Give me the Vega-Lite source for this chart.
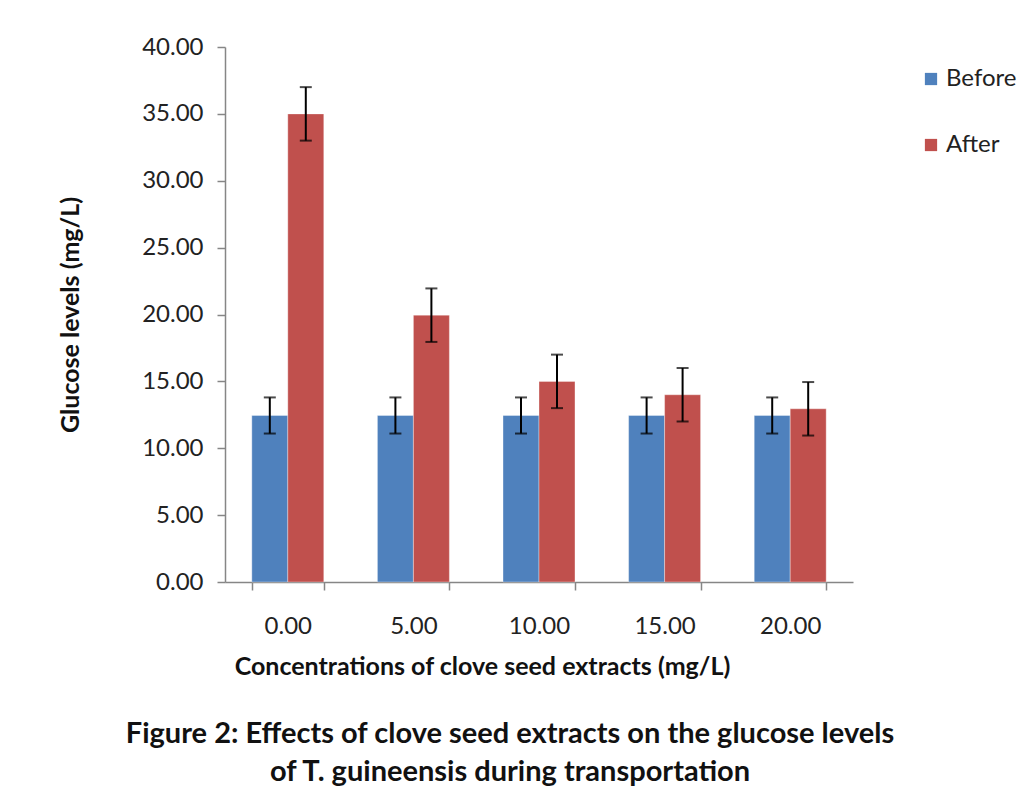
{
  "$schema": "https://vega.github.io/schema/vega-lite/v6.json",
  "width": 628,
  "height": 535,
  "autosize": {"type": "none"},
  "padding": {"left": 225, "top": 47, "right": 173, "bottom": 218},
  "background": "white",
  "config": {
    "font": "Lato",
    "view": {"stroke": null},
    "axis": {"grid": false, "domainColor": "#868686", "tickColor": "#868686", "labelColor": "#222222", "titleColor": "#111111", "domainWidth": 1.5, "tickWidth": 1.5}
  },
  "title": {
    "text": ["Figure 2: Effects of clove seed extracts on the glucose levels", "of T. guineensis during transportation"],
    "orient": "bottom",
    "anchor": "middle",
    "fontSize": 29,
    "fontWeight": "bold",
    "lineHeight": 38,
    "dx": -29,
    "offset": 41,
    "color": "#111111"
  },
  "data": {
    "values": [
      {"conc": "0.00", "group": "Before", "value": 12.45, "lo": 11.1, "hi": 13.8},
      {"conc": "0.00", "group": "After", "value": 35.0, "lo": 33.0, "hi": 37.0},
      {"conc": "5.00", "group": "Before", "value": 12.45, "lo": 11.1, "hi": 13.8},
      {"conc": "5.00", "group": "After", "value": 19.95, "lo": 17.95, "hi": 21.95},
      {"conc": "10.00", "group": "Before", "value": 12.45, "lo": 11.1, "hi": 13.8},
      {"conc": "10.00", "group": "After", "value": 15.0, "lo": 13.0, "hi": 17.0},
      {"conc": "15.00", "group": "Before", "value": 12.45, "lo": 11.1, "hi": 13.8},
      {"conc": "15.00", "group": "After", "value": 14.0, "lo": 12.0, "hi": 16.0},
      {"conc": "20.00", "group": "Before", "value": 12.45, "lo": 11.1, "hi": 13.8},
      {"conc": "20.00", "group": "After", "value": 12.95, "lo": 10.95, "hi": 14.95}
    ]
  },
  "encoding": {
    "x": {
      "field": "conc",
      "type": "nominal",
      "sort": null,
      "scale": {"paddingInner": 0.427, "paddingOuter": 0.2135},
      "axis": {
        "title": "Concentrations of clove seed extracts (mg/L)",
        "labelAngle": 0,
        "labelFontSize": 24,
        "labelPadding": 24,
        "tickSize": 8,
        "tickBand": "extent",
        "titleFontSize": 25,
        "titleFontWeight": "bold",
        "titlePadding": 16,
        "titleX": 257,
        "titleAlign": "center"
      }
    },
    "xOffset": {"field": "group", "type": "nominal", "sort": ["Before", "After"]}
  },
  "layer": [
    {
      "mark": {"type": "bar", "stroke": "#ffffff", "strokeOpacity": 0.35, "strokeWidth": 1},
      "encoding": {
        "y": {
          "field": "value",
          "type": "quantitative",
          "title": "Glucose levels (mg/L)",
          "scale": {"domain": [0, 40]},
          "axis": {
            "values": [0, 5, 10, 15, 20, 25, 30, 35, 40],
            "format": ".2f",
            "labelFontSize": 24,
            "labelPadding": 14,
            "tickSize": 8,
            "titleFontSize": 25,
            "titleFontWeight": "bold",
            "titlePadding": 58
          }
        },
        "color": {
          "field": "group",
          "type": "nominal",
          "scale": {"domain": ["Before", "After"], "range": ["#4F81BD", "#C0504D"]},
          "legend": {
            "title": null,
            "orient": "none",
            "legendX": 694,
            "legendY": 20,
            "symbolType": "square",
            "symbolSize": 150,
            "symbolStrokeWidth": 0,
            "labelFontSize": 24,
            "labelColor": "#222222",
            "labelOffset": 3,
            "rowPadding": 42,
            "padding": 0
          }
        }
      }
    },
    {
      "mark": {"type": "rule", "color": "#000000", "strokeWidth": 2},
      "encoding": {
        "y": {"field": "lo", "type": "quantitative", "title": "Glucose levels (mg/L)"},
        "y2": {"field": "hi"}
      }
    },
    {
      "mark": {"type": "tick", "color": "#000000", "size": 12, "thickness": 2},
      "encoding": {
        "y": {"field": "lo", "type": "quantitative", "title": "Glucose levels (mg/L)"}
      }
    },
    {
      "mark": {"type": "tick", "color": "#000000", "size": 12, "thickness": 2},
      "encoding": {
        "y": {"field": "hi", "type": "quantitative", "title": "Glucose levels (mg/L)"}
      }
    }
  ]
}
